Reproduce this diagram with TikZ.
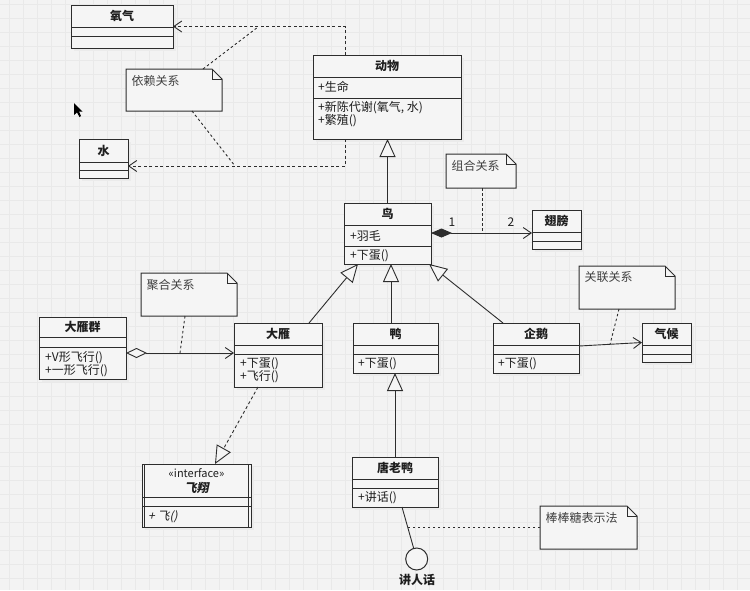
\documentclass[tikz,border=0pt]{standalone}
\usepackage{fontspec}
\setmainfont{Noto Sans CJK SC}
\newfontfamily\slantfont{Noto Sans CJK SC}[FakeSlant=0.2]
\usetikzlibrary{arrows.meta,calc}
\definecolor{bgc}{RGB}{243,243,243}
\definecolor{gridc}{RGB}{233,233,233}
\definecolor{boxc}{RGB}{245,245,245}
\definecolor{linec}{RGB}{45,45,45}
\definecolor{txtc}{RGB}{30,30,30}
\tikzset{
  boxline/.style={draw=linec, line width=1pt},
  classbox/.style={rectangle, draw=linec, line width=1pt, fill=boxc, inner sep=0pt, outer sep=0pt},
  shadowbox/.style={fill=black!8},
  titletext/.style={font=\fontsize{12}{14}\selectfont\bfseries, text=txtc, inner sep=0pt},
  mtext/.style={font=\fontsize{12}{14}\selectfont, text=txtc, inner sep=0pt, anchor=west},
  notetext/.style={font=\fontsize{12}{14}\selectfont, text=txtc!85, inner sep=0pt, anchor=west},
  conn/.style={draw=linec, line width=0.9pt},
  dep/.style={conn, dash pattern=on 3pt off 2.5pt, -{Straight Barb[length=8pt,width=11pt]}},
  notelink/.style={conn, dash pattern=on 2.5pt off 2.5pt},
  gen/.style={conn, -{Triangle[length=18pt,width=16pt,fill=boxc]}},
  real/.style={conn, dash pattern=on 3pt off 2.5pt, -{Triangle[length=18pt,width=16pt,fill=boxc]}},
  assoc/.style={conn, -{Straight Barb[length=8pt,width=11pt]}},
  compo/.style={conn, {Diamond[length=21pt,width=9pt,fill=linec]}-{Straight Barb[length=8pt,width=11pt]}},
  aggre/.style={conn, {Diamond[length=21pt,width=10pt,fill=boxc]}-{Straight Barb[length=8pt,width=11pt]}},
  gridline/.style={draw=gridc, line width=0.6pt},
}
\newcommand{\umlclass}[8]{%
  \fill[shadowbox] ({#2+3},{#3+3}) rectangle ({#4+3},{#5+3});
  \node[classbox, minimum width={#4-#2}, minimum height={#5-#3}] (#1) at ({(#2+#4)/2},{(#3+#5)/2}) {};
  \draw[boxline] (#2,#6) -- (#4,#6) (#2,#7) -- (#4,#7);
  \node[titletext] (#1-title) at ({(#2+#4)/2},{(#3+#6)/2}) {#8};
}
\newcommand{\umlnote}[6]{%
  \node[rectangle, inner sep=0pt, outer sep=0pt, minimum width={#4-#2}, minimum height={#5-#3}] (#1) at ({(#2+#4)/2},{(#3+#5)/2}) {};
  \draw[boxline, fill=boxc] (#2,#3) -- ({#4-10},#3) -- (#4,{#3+10}) -- (#4,#5) -- (#2,#5) -- cycle;
  \draw[boxline] ({#4-10},#3) -- ({#4-10},{#3+10}) -- (#4,{#3+10});
  \node[notetext] (#1-text) at ({#2+5.5},{#3+11.5}) {#6};
}
\begin{document}
\begin{tikzpicture}[x=1pt, y=-1pt]
\useasboundingbox (0,0) rectangle (750,590);
\fill[bgc] (0,0) rectangle (750,590);
\foreach \gx in {9.5,23.5,...,750} \draw[gridline] (\gx,0) -- (\gx,590);
\foreach \gy in {4,18,...,590} \draw[gridline] (0,\gy) -- (750,\gy);

% cursor
\fill[black] (74,103) -- (74,115) -- (77,112.5) -- (79.5,117) -- (81,116) -- (79,111.5) -- (82.5,111.5) -- cycle;

% classes
\umlclass{oxygen}{71}{5}{173}{48}{27}{36}{氧气}
\umlclass{water}{79}{139}{128}{178}{162}{170}{水}
\umlclass{animal}{313}{55}{461}{139}{77}{98}{动物}
\node[mtext] (animal-a1) at (318,87) {+生命};
\node[mtext] (animal-m1) at (318,107.5) {+新陈代谢(氧气, 水)};
\node[mtext] (animal-m2) at (318,121) {+繁殖()};

\umlclass{bird}{344}{203}{431}{264}{225}{246}{鸟}
\node[mtext] (bird-a1) at (350,235.5) {+羽毛};
\node[mtext] (bird-m1) at (350,256) {+下蛋()};

\umlclass{wing}{532}{210}{581}{249}{232}{241}{翅膀}

\umlclass{group}{39}{317}{126}{379}{337}{347}{大雁群}
\node[mtext] (group-m1) at (45,358) {+V形飞行()};
\node[mtext] (group-m2) at (45,370.5) {+一形飞行()};

\umlclass{goose}{234}{323}{322}{387}{345}{354}{大雁}
\node[mtext] (goose-m1) at (240,363.5) {+下蛋()};
\node[mtext] (goose-m2) at (240,376.5) {+飞行()};

\umlclass{duck}{353}{323}{438}{373}{345}{354}{鸭}
\node[mtext] (duck-m1) at (358,363.5) {+下蛋()};

\umlclass{penguin}{493}{323}{579}{373}{345}{354}{企鹅}
\node[mtext] (penguin-m1) at (498,363.5) {+下蛋()};

\umlclass{climate}{642}{323}{691}{362}{345}{354}{气候}

\umlclass{donald}{352}{457}{438}{507}{479}{488}{唐老鸭}
\node[mtext] (donald-m1) at (358,498) {+讲话()};

\umlclass{flying}{142}{464}{251}{527}{497}{506}{}
\draw[boxline] ([xshift=2.6pt]flying.north west) -- ([xshift=2.6pt]flying.south west)
               ([xshift=-2.6pt]flying.north east) -- ([xshift=-2.6pt]flying.south east);
\node[font=\fontsize{11}{13}\selectfont, text=txtc, inner sep=0pt] (flying-st) at (196.5,473) {«interface»};
\node[font=\fontsize{12}{14}\selectfont\slantfont\bfseries, text=txtc, inner sep=0pt] (flying-name) at (196.5,488) {飞翔};
\node[mtext, font=\fontsize{12}{14}\selectfont\slantfont] (flying-m1) at (148,517) {+ 飞()};

% notes
\umlnote{depnote}{126}{69}{222}{111}{依赖关系}
\umlnote{compnote}{446}{154}{516}{188}{组合关系}
\umlnote{aggnote}{141}{273}{237}{316}{聚合关系}
\umlnote{assocnote}{579}{266}{675}{309}{关联关系}
\umlnote{lollinote}{540}{506}{637}{549}{棒棒糖表示法}

% lollipop
\node[circle, draw=linec, line width=1pt, fill=boxc, minimum size=22pt, inner sep=0pt] (lolli) at (416.7,559) {};
\node[titletext] (lolli-label) at (417,580) {讲人话};

% junction coordinates for note links
\coordinate (dj1) at (258,27);
\coordinate (dj2) at (235,166);
\coordinate (cj) at (482,233);
\coordinate (aj) at (180,353);
\coordinate (sj) at (610,344.5);
\coordinate (lj) at (407.4,527.5);

% dependencies
\draw[dep] ([xshift=-42pt]animal.north) |- (oxygen.east);
\draw[dep] ([xshift=-42pt]animal.south) |- ([yshift=-7.5pt]water.east);
\draw[notelink] ([xshift=29pt]depnote.north) -- (dj1);
\draw[notelink] ([xshift=18pt]depnote.south) -- (dj2);

% generalizations
\draw[gen] (bird.north) -- (bird.north |- animal.south);
\draw[gen] ([xshift=31pt]goose.north) -- ([xshift=-29.5pt]bird.south);
\draw[gen] ([xshift=-4.5pt]duck.north) -- ([xshift=3.5pt]bird.south);
\draw[gen] ([xshift=-33pt]penguin.north) -- ([xshift=-2pt]bird.south east);
\draw[gen] (donald.north) -- (donald.north |- duck.south);

% realization
\draw[real] ([xshift=-20pt]goose.south) -- ([xshift=18.5pt]flying.north);

% composition
\draw[compo] ([yshift=0.5pt]bird.east) -- ([yshift=0.5pt]bird.east -| wing.west);
\node[mtext, anchor=center] (mult1) at (452,222.5) {1};
\node[mtext, anchor=center] (mult2) at (511,222.5) {2};
\draw[notelink] ([xshift=1pt]compnote.south) -- (cj);

% aggregation
\draw[aggre] ([yshift=-5pt]group.east) -- ([yshift=-5pt]group.east -| goose.west);
\draw[notelink] ([xshift=-4pt]aggnote.south) -- (aj);

% association
\draw[assoc] ([yshift=2pt]penguin.east) -- (climate.west);
\draw[notelink] ([xshift=-8pt]assocnote.south) -- (sj);

% lollipop
\draw[conn] ([xshift=7pt]donald.south) -- (lolli);
\draw[notelink] (lollinote.west) -- (lj);
\end{tikzpicture}
\end{document}
